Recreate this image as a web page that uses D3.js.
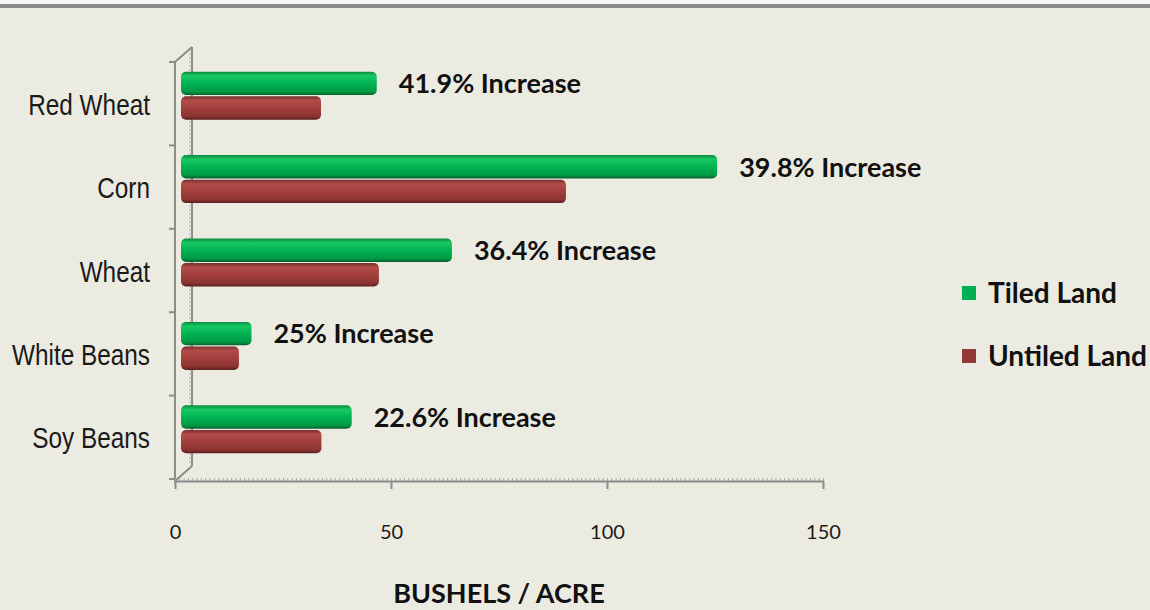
<!DOCTYPE html>
<html>
<head>
<meta charset="utf-8">
<script src="https://cdn.jsdelivr.net/npm/d3@7"></script>
<style>
  body { margin: 0; background: #ecebe1; }
  svg { display: block; }
</style>
</head>
<body>
<div id="chart"></div>
<script>
// Crop yields, bushels per acre
const categories = ["Red Wheat", "Corn", "Wheat", "White Beans", "Soy Beans"];
const tiled = [46.7, 125.5, 64.1, 17.7, 40.9];
const untiled = [33.8, 90.5, 47.2, 14.8, 33.9];
const increaseLabels = ["41.9% Increase", "39.8% Increase", "36.4% Increase", "25% Increase", "22.6% Increase"];
const seriesNames = ["Tiled Land", "Untiled Land"];
const xTicks = [0, 50, 100, 150];

const width = 1150, height = 610;

const svg = d3.select("#chart").append("svg")
  .attr("width", width)
  .attr("height", height);

// background + top border
svg.append("rect").attr("width", width).attr("height", height).attr("fill", "#ecebe1");
svg.append("rect").attr("width", width).attr("height", 4).attr("fill", "#f7f7f4");
svg.append("rect").attr("y", 4).attr("width", width).attr("height", 4).attr("fill", "#8a8a8a");

const defs = svg.append("defs");
function barGradient(id, stops) {
  const g = defs.append("linearGradient").attr("id", id)
    .attr("x1", 0).attr("y1", 0).attr("x2", 0).attr("y2", 1);
  stops.forEach(s => g.append("stop").attr("offset", s[0]).attr("stop-color", s[1]));
}
barGradient("gGreen", [[0, "#0b8a3e"], [0.18, "#17c862"], [0.5, "#00b352"], [0.85, "#009a45"], [1, "#06612c"]]);
barGradient("gRed", [[0, "#76302e"], [0.18, "#b24c49"], [0.5, "#a33f3d"], [0.85, "#8c3432"], [1, "#5b1f1e"]]);

const x = d3.scaleLinear().domain([0, 150]).range([175, 823]);
const y = d3.scaleBand().domain(categories).range([54, 471]);
const inner = d3.scaleBand().domain([0, 1]).range([0, 48]).paddingInner(0.05);
const groupOffset = y.bandwidth() / 2 - 24;

const axisColor = "#8c8c8c";

// back wall axis (depth)
const back = svg.append("g");
back.append("line").attr("x1", 192).attr("x2", 192).attr("y1", 47).attr("y2", 466)
  .attr("stroke", axisColor).attr("stroke-width", 2);
back.selectAll("line.minor")
  .data(d3.range(50, 466, 4))
  .join("line").attr("class", "minor")
  .attr("x1", 189).attr("x2", 192).attr("y1", d => d).attr("y2", d => d)
  .attr("stroke", "#a8a8a8").attr("stroke-width", 1);
back.append("line").attr("x1", 175).attr("y1", 62).attr("x2", 192).attr("y2", 47)
  .attr("stroke", axisColor).attr("stroke-width", 2);
back.append("line").attr("x1", 175).attr("y1", 481).attr("x2", 192).attr("y2", 466)
  .attr("stroke", axisColor).attr("stroke-width", 2);

// front vertical axis
svg.append("line").attr("x1", 175).attr("x2", 175).attr("y1", 62).attr("y2", 483)
  .attr("stroke", axisColor).attr("stroke-width", 2);
const bandEdges = categories.map(c => y(c) + 8).concat([y.range()[1] + 8]);
svg.selectAll("line.ytick")
  .data(bandEdges)
  .join("line").attr("class", "ytick")
  .attr("x1", 169).attr("x2", 175).attr("y1", d => d).attr("y2", d => d)
  .attr("stroke", axisColor).attr("stroke-width", 2);

// bottom axis with minor ticks
const minor = svg.append("g").attr("transform", "translate(0,481)")
  .call(d3.axisBottom(x).tickValues(d3.range(0, 151, 1)).tickSize(-3).tickFormat(""));
minor.select(".domain").remove();
minor.selectAll("line").attr("stroke", "#a8a8a8");

const xAxis = svg.append("g").attr("transform", "translate(0,481)")
  .call(d3.axisBottom(x).tickValues(xTicks).tickSize(8).tickSizeOuter(0).tickPadding(36));
xAxis.select(".domain").attr("stroke", axisColor).attr("stroke-width", 2);
xAxis.selectAll(".tick line").attr("stroke", axisColor).attr("stroke-width", 2);
xAxis.selectAll(".tick text")
  .style("font-family", "Lato, 'Open Sans', sans-serif")
  .style("font-size", "20px")
  .attr("fill", "#1a1a1a");

// category labels (condensed Arial look)
svg.selectAll("text.cat")
  .data(categories)
  .join("text").attr("class", "cat")
  .attr("transform", d => `translate(150,${y(d) + y.bandwidth() / 2 + 19}) scale(0.84,1)`)
  .attr("text-anchor", "end")
  .style("font-family", "'Liberation Sans', Arial, sans-serif")
  .style("font-size", "29px")
  .attr("fill", "#1a1a1a")
  .text(d => d);

// bars
const groups = svg.selectAll("g.grp")
  .data(categories)
  .join("g").attr("class", "grp")
  .attr("transform", d => `translate(0,${y(d) + groupOffset})`);

[tiled, untiled].forEach((vals, s) => {
  groups.append("rect")
    .attr("x", x(0) + 6)
    .attr("y", inner(s))
    .attr("width", (d, i) => x(vals[i]) - x(0) - 6)
    .attr("height", inner.bandwidth())
    .attr("rx", 5)
    .attr("fill", s === 0 ? "url(#gGreen)" : "url(#gRed)");
});

// increase labels
groups.append("text")
  .attr("x", (d, i) => x(tiled[i]) + 22)
  .attr("y", inner(0) + inner.bandwidth() / 2)
  .attr("dy", "0.36em")
  .style("font-family", "Lato, 'Open Sans', sans-serif")
  .style("font-weight", 700)
  .style("font-size", "27px")
  .attr("fill", "#111")
  .text((d, i) => increaseLabels[i]);

// legend
const legend = svg.selectAll("g.leg")
  .data(seriesNames)
  .join("g").attr("class", "leg")
  .attr("transform", (d, i) => `translate(962,${293 + i * 63})`);
legend.append("rect")
  .attr("y", -7).attr("width", 14).attr("height", 14)
  .attr("fill", (d, i) => i === 0 ? "#00b050" : "#953735");
legend.append("text")
  .attr("x", 26).attr("dy", "0.36em")
  .style("font-family", "Lato, 'Open Sans', sans-serif")
  .style("font-weight", 700)
  .style("font-size", "28px")
  .attr("fill", "#111")
  .text(d => d);

// axis title
svg.append("text")
  .attr("x", 499).attr("y", 593).attr("dy", "0.36em")
  .attr("text-anchor", "middle")
  .style("font-family", "Lato, 'Open Sans', sans-serif")
  .style("font-weight", 700)
  .style("font-size", "27px")
  .attr("fill", "#111")
  .text("BUSHELS / ACRE");
</script>
</body>
</html>
